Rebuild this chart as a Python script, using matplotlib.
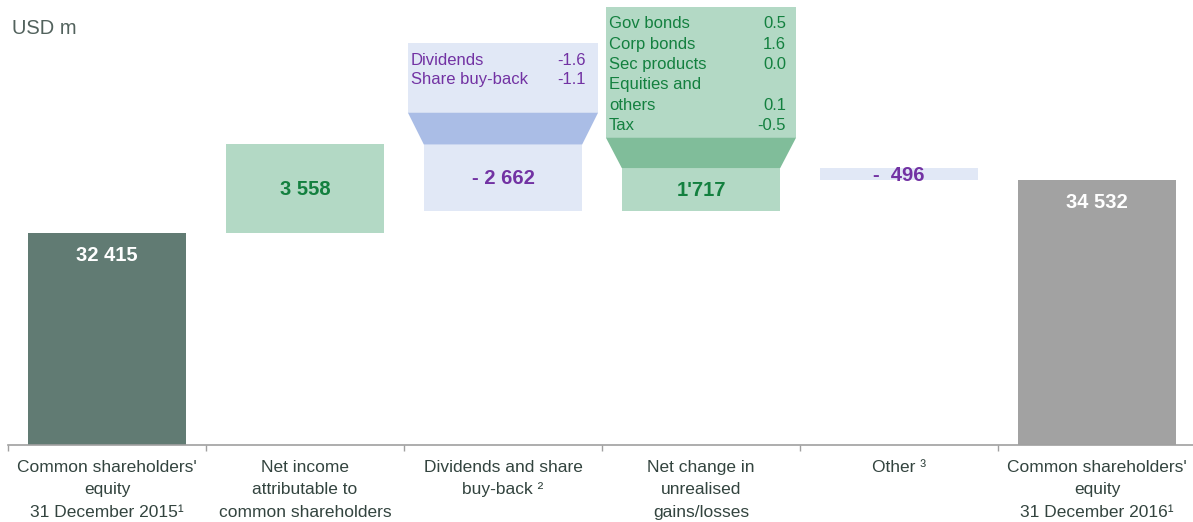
import matplotlib.pyplot as plt
from matplotlib.patches import Rectangle, Polygon

plt.rcParams['font.family'] = ['Liberation Sans', 'DejaVu Sans']

# ----------------------------- data
categories = ["Common shareholders'\nequity\n31 December 2015\u00b9",
              "Net income\nattributable to\ncommon shareholders",
              "Dividends and share\nbuy-back \u00b2",
              "Net change in\nunrealised\ngains/losses",
              "Other \u00b3",
              "Common shareholders'\nequity\n31 December 2016\u00b9"]
start_equity = 32415
changes = [3558, -2662, 1717, -496]
end_equity = 34532
value_labels = ["32 415", "3 558", "- 2 662", "1'717", "-  496", "34 532"]

div_items = ["Dividends", "Share buy-back"]
div_values = ["-1.6", "-1.1"]
gain_items = ["Gov bonds", "Corp bonds", "Sec products", "Equities and\nothers", "Tax"]
gain_values = ["0.5", "1.6", "0.0", "0.1", "-0.5"]

# ----------------------------- colours
c_start = '#617b73'
c_pos = '#b3d9c5'
c_neg = '#e1e8f6'
c_end = '#a2a2a2'
c_green = '#13803f'
c_purple = '#7232a3'
c_funnel_neg = '#aabde6'
c_funnel_pos = '#80bd9a'

# ----------------------------- figure
fig = plt.figure(figsize=(11.93, 5.22), dpi=100)
ax = fig.add_axes([8 / 1193, 77 / 522, 1188 / 1193, 445 / 522])
y0 = 23950
ax.set_ylim(y0, y0 + 445 * 40)
ax.set_xlim(-0.5, 5.5)

w = 0.8
# waterfall bottoms/heights
bottoms, heights, colors = [y0], [start_equity - y0], [c_start]
level = start_equity
for ch in changes:
    lo = level + min(ch, 0)
    bottoms.append(lo)
    heights.append(abs(ch))
    colors.append(c_pos if ch > 0 else c_neg)
    level += ch
bottoms.append(y0)
heights.append(end_equity - y0)
colors.append(c_end)

ax.bar(range(6), heights, bottom=bottoms, width=w, color=colors, zorder=2)

# value labels
for i, lab in enumerate(value_labels):
    top = bottoms[i] + heights[i]
    if i in (0, 5):
        ax.text(i, top - 22 * 40, lab, ha='center', va='center',
                fontsize=14.5, fontweight='bold', color='white', zorder=4)
    else:
        col = c_green if changes[i - 1] > 0 else c_purple
        ax.text(i, bottoms[i] + heights[i] / 2 - 1 * 40, lab, ha='center', va='center',
                fontsize=14.5, fontweight='bold', color=col, zorder=4)


def callout(x, box_lo, box_hi, bar_top, fc, funnel_c):
    bw = 0.96
    ax.add_patch(Rectangle((x - bw / 2, box_lo), bw, box_hi - box_lo,
                           facecolor=fc, edgecolor='none', zorder=2))
    ax.add_patch(Polygon([(x - bw / 2, box_lo), (x + bw / 2, box_lo),
                          (x + w / 2, bar_top), (x - w / 2, bar_top)],
                         closed=True, facecolor=funnel_c, edgecolor='none', zorder=2))


# dividends callout
callout(2, 37240, 40040, start_equity + changes[0], c_neg, c_funnel_neg)
for k, (name, v) in enumerate(zip(div_items, div_values)):
    yy = 40040 - (17.5 + 19.5 * k) * 40
    ax.text(2 - 0.465, yy, name, ha='left', va='center', fontsize=12, color=c_purple, zorder=4)
    ax.text(2 + 0.42, yy, v, ha='right', va='center', fontsize=12, color=c_purple, zorder=4)

# unrealised gains callout
callout(3, 36240, 41480, start_equity + sum(changes[:3]), c_pos, c_funnel_pos)
row = 0
for name, v in zip(gain_items, gain_values):
    nl = name.count('\n')
    for j, part in enumerate(name.split('\n')):
        yy = 41480 - (17 + 20.4 * (row + j)) * 40
        ax.text(3 - 0.465, yy, part, ha='left', va='center', fontsize=12, color=c_green, zorder=4)
    yy = 41480 - (17 + 20.4 * (row + nl)) * 40
    ax.text(3 + 0.43, yy, v, ha='right', va='center', fontsize=12, color=c_green, zorder=4)
    row += nl + 1

# axes styling
for s in ['top', 'right', 'left']:
    ax.spines[s].set_visible(False)
ax.spines['bottom'].set_color('#a0a0a0')
ax.spines['bottom'].set_linewidth(1.2)
ax.set_yticks([])
ax.set_xticks(range(6))
ax.set_xticklabels(categories, fontsize=12.5, color='#33443f', linespacing=1.6)
ax.tick_params(axis='x', which='major', length=0, pad=11)
ax.set_xticks([i - 0.5 for i in range(7)], minor=True)
ax.tick_params(axis='x', which='minor', length=4, color='#a0a0a0', width=1)

fig.text(12 / 1193, 1 - 29 / 522, 'USD m', ha='left', va='center', fontsize=14.5, color='#52625d')

fig.savefig('out.png', dpi=100)
